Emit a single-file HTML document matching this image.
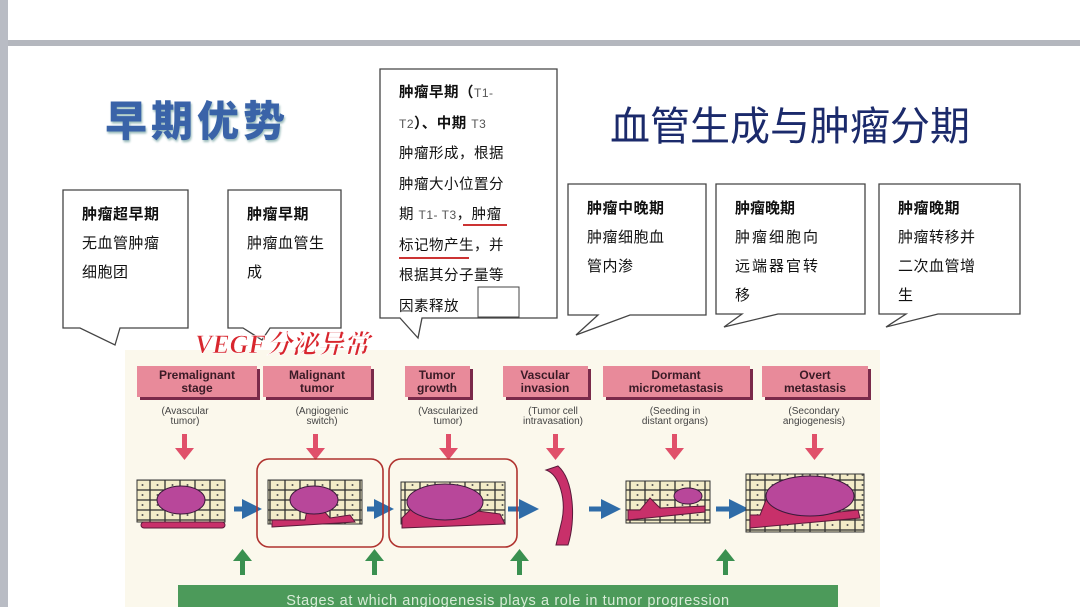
<!DOCTYPE html>
<html><head><meta charset="utf-8"><style>
body{margin:0;width:1080px;height:607px;overflow:hidden;background:#fff;position:relative;font-family:"Liberation Sans","Noto Sans CJK SC",sans-serif}
.a{position:absolute}
</style></head><body>
<div class="a" style="left:0;top:0;width:8px;height:607px;background:#b9bcc4"></div>
<div class="a" style="left:8px;top:40px;width:1072px;height:6px;background:#b4b7be"></div>
<div class="a" style="left:105px;top:88px;font-size:42px;font-weight:900;color:#3a63a8;letter-spacing:4px;font-family:'Noto Sans CJK SC',sans-serif;text-shadow:1px 2px 2px #9bb">早期优势</div>
<div class="a" style="left:610px;top:94px;font-size:40px;color:#1b2a6b;font-family:'Noto Sans CJK SC',sans-serif">血管生成与肿瘤分期</div>
<svg class="a" style="left:0;top:0" width="1080" height="607">
<g fill="#fff" stroke="#444" stroke-width="1.3">
<path d="M63 190H188V328H120L115 345L80 328H63Z"/>
<path d="M228 190H341V328H270L262 340L243 328H228Z"/>
<path d="M380 69H557V318H422L418 338L400 318H380Z"/>
<path d="M568 184H706V315H630L576 335L598 315H568Z"/>
<path d="M716 184H865V314H778L724 327L742 314H716Z"/>
<path d="M879 184H1020V314H938L886 327L906 314H879Z"/>
</g>
<line x1="463" y1="225" x2="507" y2="225" stroke="#c33" stroke-width="2"/>
<line x1="399" y1="258" x2="469" y2="258" stroke="#c33" stroke-width="2"/>
<rect x="478" y="287" width="41" height="30" fill="#fff" stroke="#444"/>
</svg>
<div class="a" style="left:82px;top:200px;font-size:15px;line-height:29px;color:#111;letter-spacing:0.5px"><b>肿瘤超早期</b><br>无血管肿瘤<br>细胞团</div>
<div class="a" style="left:247px;top:200px;font-size:15px;line-height:29px;color:#111;letter-spacing:0.5px"><b>肿瘤早期</b><br>肿瘤血管生<br>成</div>
<div class="a" style="left:399px;top:78px;font-size:14.5px;line-height:30.5px;color:#111;width:150px;letter-spacing:0.5px"><b>肿瘤早期（</b><span style="font-size:12px;color:#555">T1-</span><br><span style="font-size:12px;color:#555">T2</span><b>）、中期</b> <span style="font-size:12px;color:#555">T3</span><br>肿瘤形成，根据<br>肿瘤大小位置分<br>期 <span style="font-size:12px;color:#555">T1- T3</span>，肿瘤<br>标记物产生，并<br>根据其分子量等<br>因素释放</div>
<div class="a" style="left:587px;top:194px;font-size:15px;line-height:29px;color:#111;letter-spacing:0.5px"><b>肿瘤中晚期</b><br>肿瘤细胞血<br>管内渗</div>
<div class="a" style="left:735px;top:194px;font-size:15px;line-height:29px;color:#111;letter-spacing:2px"><b style="letter-spacing:0">肿瘤晚期</b><br>肿瘤细胞向<br>远端器官转<br>移</div>
<div class="a" style="left:898px;top:194px;font-size:15px;line-height:29px;color:#111;letter-spacing:0.5px"><b>肿瘤晚期</b><br>肿瘤转移并<br>二次血管增<br>生</div>
<div class="a" style="left:125px;top:350px;width:755px;height:257px;background:#fbf8ec"></div>
<svg class="a" style="left:0;top:0" width="1080" height="607">
<defs>
<pattern id="c" width="15" height="10" patternUnits="userSpaceOnUse"><rect width="15" height="10" fill="#f3ecc8" stroke="#333" stroke-width="1.3"/><circle cx="7.5" cy="5" r="1" fill="#555"/></pattern>
<marker id="bh" markerWidth="4" markerHeight="4" refX="2" refY="2" orient="auto"><path d="M0 0L4 2L0 4Z" fill="#2f6ca8"/></marker>
</defs>
<g font-family="Liberation Sans" font-weight="bold" font-size="12" fill="#3a1a26" text-anchor="middle">
<g fill="#7a2a4a"><rect x="140" y="369" width="120" height="31"/><rect x="266" y="369" width="108" height="31"/><rect x="408" y="369" width="65" height="31"/><rect x="506" y="369" width="85" height="31"/><rect x="606" y="369" width="147" height="31"/><rect x="765" y="369" width="106" height="31"/></g>
<g fill="#e88a9a"><rect x="137" y="366" width="120" height="31"/><rect x="263" y="366" width="108" height="31"/><rect x="405" y="366" width="65" height="31"/><rect x="503" y="366" width="85" height="31"/><rect x="603" y="366" width="147" height="31"/><rect x="762" y="366" width="106" height="31"/></g>
<text x="197" y="379">Premalignant</text><text x="197" y="392">stage</text>
<text x="317" y="379">Malignant</text><text x="317" y="392">tumor</text>
<text x="437" y="379">Tumor</text><text x="437" y="392">growth</text>
<text x="545" y="379">Vascular</text><text x="545" y="392">invasion</text>
<text x="676" y="379">Dormant</text><text x="676" y="392">micrometastasis</text>
<text x="815" y="379">Overt</text><text x="815" y="392">metastasis</text>
<g font-weight="normal" font-size="10" fill="#444">
<text x="185" y="414">(Avascular</text><text x="185" y="424">tumor)</text>
<text x="322" y="414">(Angiogenic</text><text x="322" y="424">switch)</text>
<text x="448" y="414">(Vascularized</text><text x="448" y="424">tumor)</text>
<text x="553" y="414">(Tumor cell</text><text x="553" y="424">intravasation)</text>
<text x="675" y="414">(Seeding in</text><text x="675" y="424">distant organs)</text>
<text x="814" y="414">(Secondary</text><text x="814" y="424">angiogenesis)</text></g>
</g>
<g fill="#e0506a"><path d="M182 434h5v14h7l-9.5 12-9.5-12h7z"/><path d="M313 434h5v14h7l-9.5 12-9.5-12h7z"/><path d="M446 434h5v14h7l-9.5 12-9.5-12h7z"/><path d="M553 434h5v14h7l-9.5 12-9.5-12h7z"/><path d="M672 434h5v14h7l-9.5 12-9.5-12h7z"/><path d="M812 434h5v14h7l-9.5 12-9.5-12h7z"/></g>
<g fill="#3a9050"><path d="M240 575h5v-14h7l-9.5-12-9.5 12h7z"/><path d="M372 575h5v-14h7l-9.5-12-9.5 12h7z"/><path d="M517 575h5v-14h7l-9.5-12-9.5 12h7z"/><path d="M723 575h5v-14h7l-9.5-12-9.5 12h7z"/></g>
<g stroke="#2f6ca8" stroke-width="5" marker-end="url(#bh)"><line x1="234" y1="509" x2="252" y2="509"/><line x1="367" y1="509" x2="384" y2="509"/><line x1="508" y1="509" x2="529" y2="509"/><line x1="589" y1="509" x2="611" y2="509"/><line x1="716" y1="509" x2="739" y2="509"/></g>
<g stroke="#333">
<rect x="137" y="480" width="88" height="42" fill="url(#c)"/>
<rect x="268" y="480" width="94" height="44" fill="url(#c)"/>
<rect x="401" y="482" width="104" height="42" fill="url(#c)"/>
<rect x="626" y="481" width="84" height="42" fill="url(#c)"/>
<rect x="746" y="474" width="118" height="58" fill="url(#c)"/>
</g>
<g fill="#c8306a" stroke="#5a1a3a">
<rect x="141" y="522" width="84" height="6" rx="3"/>
<path d="M272 527L355 522L350 515L330 518L310 495L305 520L272 520Z"/>
<path d="M402 528L505 524L500 514L470 510L460 490L430 488L410 510L402 518Z"/>
<path d="M546 470C560 475 566 500 562 520L556 545L568 545C576 520 574 480 558 466Z"/>
<path d="M628 520L705 512L705 506L660 508L650 498L640 510L628 510Z"/>
<path d="M750 528L860 518L858 510L820 514L800 490L770 490L760 515L750 515Z"/>
</g>
<g fill="#b8479a" stroke="#3a1a3a">
<ellipse cx="181" cy="500" rx="24" ry="14"/><ellipse cx="314" cy="500" rx="24" ry="14"/><ellipse cx="445" cy="502" rx="38" ry="18"/><ellipse cx="688" cy="496" rx="14" ry="8"/><ellipse cx="810" cy="496" rx="44" ry="20"/>
</g>
<g fill="none" stroke="#b0332f" stroke-width="1.6"><rect x="257" y="459" width="126" height="88" rx="12"/><rect x="389" y="459" width="128" height="88" rx="12"/></g>
<rect x="178" y="585" width="660" height="22" fill="#4c9a5a"/>
<text x="508" y="605" font-family="Liberation Sans" font-size="14.5" fill="#d8ecd8" text-anchor="middle" letter-spacing="0.6">Stages at which angiogenesis plays a role in tumor progression</text>
<text x="195" y="353" font-family="Liberation Serif,Noto Serif CJK SC,serif" font-style="italic" font-weight="bold" font-size="26" fill="#d8262e" stroke="#fff" stroke-width="0.6">VEGF分泌异常</text>
</svg>
</body></html>
